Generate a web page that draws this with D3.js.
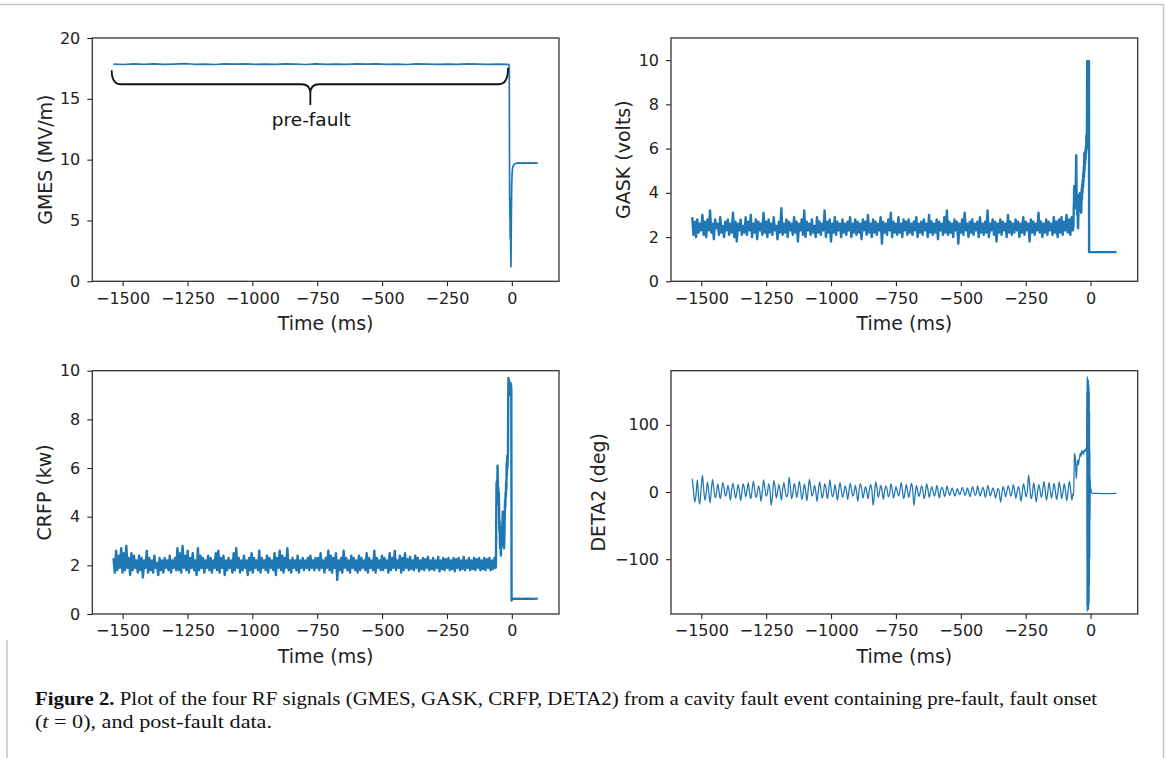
<!DOCTYPE html>
<html>
<head>
<meta charset="utf-8">
<script src="https://cdn.jsdelivr.net/npm/d3@7/dist/d3.min.js"></script>
<style>
  html, body { margin: 0; padding: 0; background: #fff; }
  svg { display: block; }
</style>
</head>
<body>
<svg id="fig" width="1167" height="758"></svg>
<script>
// ---------------------------------------------------------------
// RF signals of one cavity fault event (times in ms, fault onset t = 0)
// ---------------------------------------------------------------
const timeTicks = [-1500, -1250, -1000, -750, -500, -250, 0];
const timeDomain = [-1616.75, 181.75];

const gmesTicks = [0, 5, 10, 15, 20];
const gaskTicks = [0, 2, 4, 6, 8, 10];
const crfpTicks = [0, 2, 4, 6, 8, 10];
const deta2Ticks = [-100, 0, 100];

// GMES (MV/m): steady pre-fault gradient, sampled evenly from -1535 to -14 ms
const gmesPreSpan = [-1535, -14];
const gmesPre = [
  17.86,17.82,17.88,17.84,17.87,17.83,17.86,17.89,17.84,17.86,
  17.82,17.87,17.85,17.88,17.83,17.86,17.84,17.87,17.85,17.82,
  17.88,17.84,17.86,17.83,17.87,17.85,17.88,17.84,17.86,17.82,
  17.87,17.85,17.83,17.86,17.84,17.87,17.85,17.83,17.86,17.84
];
// GMES around the fault: [time, value]
const gmesFault = [
  [-12, 17.80], [-10, 17.74], [-8.5, 7.0], [-7.5, 5.2], [-7, 6.8], [-6.5, 3.6],
  [-6, 6.4], [-5.5, 3.4], [-5, 5.6], [-4.5, 2.6], [-3.5, 1.2], [-2.5, 3.4],
  [-1.5, 6.0], [-0.5, 7.8], [0.5, 8.6], [2, 9.15], [4, 9.4], [7, 9.55],
  [11, 9.65], [16, 9.70], [25, 9.73], [35, 9.71], [45, 9.74], [55, 9.72],
  [65, 9.74], [75, 9.71], [85, 9.73], [100, 9.72]
];

// GASK (volts): pre-fault samples evenly spread over -1535 .. -68 ms
const gaskPreSpan = [-1535, -68];
const gaskPre = [
  2.9,2.1,2.7,2.0,2.8,2.2,2.6,2.3,3.0,2.1,
  2.7,2.0,2.8,2.3,3.2,2.2,2.6,1.9,2.8,2.4,
  2.6,2.1,2.9,2.2,2.5,2.0,2.7,2.3,2.8,2.1,
  2.6,2.2,3.1,2.0,2.7,1.8,2.6,2.3,2.8,2.1,
  2.5,2.2,2.9,2.1,2.7,2.3,3.0,2.0,2.6,2.2,
  2.8,1.9,2.7,2.3,2.6,2.1,3.1,2.2,2.7,2.0,
  2.8,2.2,2.6,2.1,2.9,2.3,2.5,1.9,2.7,2.2,
  3.3,2.1,2.6,2.2,2.8,2.0,2.7,2.3,2.6,2.1,
  2.9,2.2,2.7,1.8,2.6,2.3,2.8,2.1,3.2,2.0,
  2.7,2.3,2.6,2.1,2.8,2.2,2.5,2.0,2.9,2.2,
  2.7,2.1,2.6,2.3,3.2,2.0,2.7,2.2,2.8,1.8,
  2.6,2.2,2.9,2.1,2.7,2.3,2.6,2.0,2.8,2.2,
  2.6,2.1,2.7,2.3,2.9,2.0,2.6,2.2,2.8,2.1,
  2.7,2.2,2.6,1.9,2.8,2.3,2.7,2.1,3.0,2.2,
  2.6,2.0,2.8,2.2,2.7,2.1,2.6,2.3,2.9,1.7,
  2.7,2.2,2.6,2.1,2.8,2.3,3.1,2.0,2.7,2.2,
  2.6,2.1,2.9,2.2,2.6,2.0,2.8,2.3,2.7,2.1,
  2.8,2.2,2.6,2.1,2.7,2.3,2.9,2.0,2.6,2.2,
  2.7,2.1,2.8,2.3,2.6,2.0,3.0,2.2,2.7,2.1,
  2.6,2.2,2.8,1.9,2.7,2.3,2.6,2.1,2.9,2.2,
  3.2,2.1,2.7,2.2,2.6,2.0,2.8,2.3,2.7,1.7,
  2.6,2.2,2.8,2.1,3.1,2.3,2.6,2.0,2.7,2.2,
  2.8,2.1,2.6,2.3,2.7,2.0,2.9,2.2,2.6,2.1,
  2.7,2.2,3.2,2.0,2.6,2.3,2.8,2.1,2.7,1.8,
  2.6,2.2,2.8,2.1,2.7,2.3,2.6,2.0,3.0,2.2,
  2.7,2.1,2.6,2.2,2.8,2.3,2.7,2.0,2.6,2.2,
  2.9,2.1,2.7,2.3,2.6,1.8,2.8,2.2,2.7,2.1,
  2.6,2.3,3.1,2.2,2.7,2.0,2.6,2.2,2.8,2.1,
  2.7,2.3,2.6,2.1,2.9,2.2,2.7,2.0,2.8,2.2,
  2.9,2.1,2.7,2.3,3.0,2.2,2.8,2.1,2.9,2.3
];
const gaskFault = [
  [-66, 2.5], [-64, 3.6], [-63, 4.3], [-62, 3.8], [-61, 4.1], [-60, 3.3],
  [-59, 4.0], [-58, 3.5], [-57, 4.4], [-56, 5.0], [-55, 5.7], [-54, 4.2],
  [-53, 3.6], [-52, 3.9], [-51, 3.0], [-50, 3.4], [-49, 2.7], [-48, 2.4],
  [-47, 2.9], [-46, 3.3], [-45, 3.9], [-44, 3.2], [-43, 3.7], [-42, 3.4],
  [-41, 4.0], [-40, 3.3], [-39, 3.6], [-38, 3.2], [-37, 3.5], [-36, 3.1],
  [-35, 3.6], [-34, 4.2], [-33, 3.7], [-32, 4.4], [-31, 4.0], [-30, 4.6],
  [-29, 4.2], [-28, 4.9], [-27, 4.5], [-26, 5.2], [-25, 4.7], [-24, 5.8],
  [-23, 5.0], [-22, 5.6], [-21, 5.3], [-20, 5.9], [-19, 5.5], [-18, 6.1],
  [-17, 5.8], [-16, 6.6], [-15, 6.0], [-14, 6.4], [-13, 9.95], [-6, 9.95],
  [-5.5, 1.32], [100, 1.32]
];

// CRFP (kW): pre-fault samples evenly spread over -1535 .. -62 ms
const crfpPreSpan = [-1535, -62];
const crfpPre = [
  2.3,1.7,2.6,1.8,2.4,1.9,2.7,1.7,2.5,1.8,
  2.8,1.9,2.3,1.6,2.5,1.8,2.4,1.9,2.2,1.7,
  2.4,1.8,2.3,1.5,2.2,1.9,2.6,1.7,2.3,1.8,
  2.2,1.7,2.4,1.9,2.1,1.6,2.3,1.8,2.2,1.7,
  2.3,1.9,2.2,1.8,2.4,1.7,2.2,1.9,2.3,1.8,
  2.7,1.8,2.5,1.7,2.8,1.9,2.4,1.8,2.6,1.7,
  2.3,1.9,2.5,1.8,2.2,1.6,2.7,1.8,2.4,1.9,
  2.3,1.7,2.2,1.9,2.4,1.8,2.3,1.7,2.2,1.9,
  2.5,1.8,2.6,1.7,2.3,1.9,2.4,1.6,2.2,1.8,
  2.3,1.9,2.2,1.7,2.5,1.8,2.7,1.9,2.3,1.7,
  2.2,1.8,2.4,1.9,2.2,1.6,2.3,1.8,2.5,1.7,
  2.3,1.9,2.2,1.8,2.6,1.7,2.3,1.9,2.2,1.8,
  2.4,1.7,2.3,1.9,2.2,1.8,2.5,1.6,2.3,1.9,
  2.6,1.8,2.4,1.7,2.3,1.9,2.7,1.8,2.2,1.7,
  2.3,1.9,2.2,1.8,2.4,1.7,2.2,1.9,2.3,1.8,
  2.2,1.9,2.3,1.8,2.4,1.9,2.2,1.8,2.3,1.9,
  2.3,1.8,2.5,1.9,2.2,1.7,2.3,1.9,2.6,1.8,
  2.4,1.7,2.3,1.9,2.5,1.4,2.2,1.8,2.3,1.7,
  2.6,1.9,2.3,1.8,2.2,1.7,2.4,1.9,2.3,1.8,
  2.2,1.7,2.4,1.8,2.3,1.9,2.2,1.8,2.5,1.7,
  2.3,1.9,2.2,1.8,2.6,1.7,2.3,1.9,2.2,1.8,
  2.4,1.8,2.3,1.9,2.2,1.7,2.5,1.8,2.3,1.9,
  2.6,1.8,2.2,1.9,2.4,1.7,2.3,1.8,2.5,1.9,
  2.25,1.8,2.35,1.85,2.2,1.8,2.4,1.9,2.3,1.75,
  2.2,1.85,2.3,1.8,2.25,1.9,2.35,1.8,2.2,1.85,
  2.3,1.8,2.2,1.9,2.35,1.75,2.2,1.85,2.3,1.8,
  2.25,1.9,2.3,1.8,2.2,1.85,2.3,1.75,2.25,1.9,
  2.3,1.8,2.2,1.85,2.35,1.8,2.2,1.9,2.3,1.8,
  2.2,1.85,2.3,1.8,2.25,1.9,2.3,1.8,2.2,1.85,
  2.3,1.8,2.25,1.9,2.3,1.8,2.2,1.85,2.3,1.9
];
const crfpFault = [
  [-61, 2.2], [-60, 4.2], [-59, 5.4], [-58, 4.9], [-57, 5.5], [-56, 5.0],
  [-55, 6.1], [-54, 5.3], [-53, 4.8], [-52, 5.2], [-51, 4.5], [-50, 5.0],
  [-49, 4.1], [-48, 3.4], [-47, 3.8], [-46, 3.0], [-45, 2.7], [-44, 3.1],
  [-43, 2.6], [-42, 2.4], [-41, 2.9], [-40, 3.3], [-39, 3.0], [-38, 3.6],
  [-37, 3.4], [-36, 3.9], [-35, 4.2], [-34, 3.7], [-33, 3.2], [-32, 2.8],
  [-31, 3.3], [-30, 2.7], [-29, 3.1], [-28, 3.6], [-27, 4.2], [-26, 4.7],
  [-25, 4.4], [-24, 5.0], [-23, 4.8], [-22, 5.4], [-21, 5.1], [-20, 6.2],
  [-19, 5.7], [-18, 6.5], [-17, 6.0], [-16, 6.4], [-15, 6.6], [-14, 8.8],
  [-13, 9.7], [-12, 9.4], [-11, 9.6], [-10, 9.2], [-9, 9.5], [-8, 9.1],
  [-7, 9.4], [-6, 9.0], [-5, 9.5], [-4, 9.1], [-3, 9.4], [-2, 9.2],
  [-1, 0.55], [1, 0.6], [4, 0.62], [20, 0.63], [40, 0.62], [60, 0.63],
  [80, 0.62], [100, 0.63]
];

// DETA2 (deg): detuning angle, pre-fault samples evenly spread over -1535 .. -67 ms
const deta2PreSpan = [-1535, -67];
const deta2Pre = [
  20,2,-15,-4,18,-8,-18,6,25,4,-12,-2,
  15,0,-16,3,19,5,-8,-3,12,2,-10,1,
  14,6,-6,-2,10,1,-12,4,13,3,-9,-1,
  11,2,-13,0,12,5,-7,2,14,-1,-10,3,
  16,4,-8,-3,9,2,-14,1,18,6,-6,-2,
  12,3,-20,-5,17,8,-9,0,11,2,-12,4,
  14,1,-7,-4,22,9,-10,-2,13,5,-8,1,
  16,6,-11,-3,12,2,-13,3,19,7,-6,-1,
  10,0,-14,2,15,4,-9,-2,12,6,-10,0,
  18,5,-7,-3,11,1,-12,2,14,3,-8,-1,
  9,2,-11,1,13,4,-6,-2,10,0,-14,3,
  12,5,-9,-1,8,1,-10,2,11,3,-20,-4,
  15,6,-8,0,10,2,-11,1,9,3,-7,-2,
  12,4,-9,-1,8,0,-6,2,14,3,-10,-1,
  11,2,-8,1,13,5,-20,-4,10,1,-7,0,
  9,3,-10,-2,12,4,-8,0,8,2,-6,-1,
  10,1,-9,2,7,3,-7,-1,9,2,-5,0,
  6,1,-6,-2,5,0,-4,1,7,2,-5,-1,
  6,0,-7,1,8,2,-5,-2,9,1,-6,0,
  7,3,-8,-1,10,2,-6,0,6,1,-9,-2,
  5,0,-15,-3,8,2,-7,1,9,3,-6,-1,
  11,2,-9,0,8,1,-14,-2,12,4,-7,0,
  25,8,-10,-3,14,2,-15,-1,11,3,-8,0,
  16,4,-12,-2,14,3,-9,1,13,2,-11,-1,
  15,5,-10,0,12,1,-13,2,16,4,-12,-2
];
// rise before the trip, then the wide phase swing at onset and the settled value
const deta2Fault = [
  [-65, -5], [-63, 40], [-62, 58], [-61, 50], [-59, 55], [-57, 35], [-55, 20],
  [-53, 30], [-51, 45], [-49, 48], [-47, 40], [-45, 44], [-43, 50], [-41, 55],
  [-39, 58], [-37, 53], [-35, 57], [-33, 62], [-31, 58], [-29, 60], [-27, 56],
  [-25, 62], [-23, 60], [-21, 63], [-19, 61], [-17, 65], [-15, 68],
  [-14.4, 150], [-13.8, -170], [-13.2, 168], [-12.6, -178], [-12, 172],
  [-11.4, -165], [-10.8, 165], [-10.2, -175], [-9.6, 160], [-9, -172],
  [-8.4, 168], [-7.8, -176], [-7.2, 162], [-6.6, -170], [-6, 158], [-5.4, -165],
  [-4.8, 150], [-4.2, -140], [-3.6, 120], [-3, -100], [-2.4, 60], [-1.8, -40],
  [-1.2, 20], [0, 8], [1, 5], [2, 3], [4, -1], [8, -2], [30, -2], [60, -2.5],
  [100, -2]
];

const signalColor = '#1f77b4';
const inkColor = '#222';
const fontSans = 'DejaVu Sans, sans-serif';

// samples spread evenly across a time span, followed by the fault points
function buildSeries(span, values, fault) {
  const n = values.length;
  const pts = values.map((v, i) => [span[0] + (span[1] - span[0]) * i / (n - 1), v]);
  return pts.concat(fault);
}

const panels = [
  { label: 'GMES (MV/m)', box: [92.3, 38, 559, 281.3], yDomain: [0, 20], yTicks: gmesTicks,
    labelX: 45, data: buildSeries(gmesPreSpan, gmesPre, gmesFault), width: 1.7, curve: d3.curveLinear },
  { label: 'GASK (volts)', box: [671, 38, 1137.7, 281.3], yDomain: [0, 11], yTicks: gaskTicks,
    labelX: 623, data: buildSeries(gaskPreSpan, gaskPre, gaskFault), width: 2.4, curve: d3.curveLinear },
  { label: 'CRFP (kw)', box: [92.3, 370.7, 559, 614], yDomain: [0, 10], yTicks: crfpTicks,
    labelX: 44, data: buildSeries(crfpPreSpan, crfpPre, crfpFault), width: 2.4, curve: d3.curveLinear },
  { label: 'DETA2 (deg)', box: [671, 370.7, 1137.7, 614], yDomain: [-181.6, 180.6], yTicks: deta2Ticks,
    labelX: 598, data: buildSeries(deta2PreSpan, deta2Pre, deta2Fault), width: 1.25, curve: d3.curveMonotoneX }
];

const svg = d3.select('#fig');

// page frame lines
svg.append('line').attr('x1', 0).attr('x2', 1163.5).attr('y1', 4.5).attr('y2', 4.5)
  .attr('stroke', '#c4c4c4').attr('stroke-width', 1.5);
svg.append('line').attr('x1', 1163.5).attr('x2', 1163.5).attr('y1', 4.5).attr('y2', 758)
  .attr('stroke', '#c4c4c4').attr('stroke-width', 1.5);
svg.append('line').attr('x1', 7).attr('x2', 7).attr('y1', 640).attr('y2', 758)
  .attr('stroke', '#c4c4c4').attr('stroke-width', 1.5);

const tickFmt = d3.format('d');

panels.forEach((p, idx) => {
  const [x0, y0, x1, y1] = p.box;
  const x = d3.scaleLinear().domain(timeDomain).range([x0, x1]);
  const y = d3.scaleLinear().domain(p.yDomain).range([y1, y0]);
  const g = svg.append('g');

  const line = d3.line().x(d => x(d[0])).y(d => y(d[1])).curve(p.curve);
  g.append('path').datum(p.data)
    .attr('d', line)
    .attr('fill', 'none')
    .attr('stroke', signalColor)
    .attr('stroke-width', p.width)
    .attr('stroke-linejoin', 'round');

  // axes
  const xAxis = d3.axisBottom(x).tickValues(timeTicks).tickFormat(tickFmt).tickSize(5).tickPadding(6);
  const yAxis = d3.axisLeft(y).tickValues(p.yTicks).tickFormat(tickFmt).tickSize(5).tickPadding(7);
  const gx = g.append('g').attr('transform', `translate(0,${y1})`).call(xAxis);
  const gy = g.append('g').attr('transform', `translate(${x0},0)`).call(yAxis);
  [gx, gy].forEach(a => {
    a.select('.domain').remove();
    a.selectAll('.tick line').attr('stroke', inkColor).attr('stroke-width', 1.1);
    a.selectAll('.tick text').attr('fill', inkColor)
      .style('font-family', fontSans).style('font-size', '16px');
  });

  // frame
  g.append('rect').attr('x', x0).attr('y', y0).attr('width', x1 - x0).attr('height', y1 - y0)
    .attr('fill', 'none').attr('stroke', '#333').attr('stroke-width', 1.3);

  // axis titles
  g.append('text').attr('x', (x0 + x1) / 2).attr('y', y1 + 49)
    .attr('text-anchor', 'middle').attr('fill', inkColor)
    .style('font-family', fontSans).style('font-size', '19px')
    .text('Time (ms)');
  g.append('text')
    .attr('transform', `translate(${p.labelX},${(y0 + y1) / 2}) rotate(-90)`)
    .attr('text-anchor', 'middle').attr('dominant-baseline', 'central').attr('fill', inkColor)
    .style('font-family', fontSans).style('font-size', '19px')
    .text(p.label);

  // brace marking the pre-fault window
  if (idx === 0) {
    const bx0 = x(-1542), bx1 = x(-14.6), bc = x(-776.5);
    const yL = y(17.35), yR = y(17.55), yH = y(16.2), yTip = y(14.5);
    const r = 9;
    const path = d3.path();
    path.moveTo(bx0, yL);
    path.quadraticCurveTo(bx0, yH, bx0 + r, yH);
    path.lineTo(bc - r, yH);
    path.quadraticCurveTo(bc, yH, bc, yH + r);
    path.lineTo(bc, yTip);
    path.moveTo(bc, yH + r);
    path.quadraticCurveTo(bc, yH, bc + r, yH);
    path.lineTo(bx1 - r, yH);
    path.quadraticCurveTo(bx1, yH, bx1, yR);
    g.append('path').attr('d', path.toString())
      .attr('fill', 'none').attr('stroke', '#111').attr('stroke-width', 1.8);
    g.append('text').attr('x', bc + 1).attr('y', y(14.5) + 21)
      .attr('text-anchor', 'middle').attr('fill', '#111')
      .style('font-family', fontSans).style('font-size', '18.5px')
      .text('pre-fault');
  }
});

// caption
const cap = svg.append('g').style('font-family', 'Liberation Serif, serif').style('font-size', '19.5px')
  .attr('fill', '#111');
const c1 = cap.append('text').attr('x', 35).attr('y', 705)
  .attr('textLength', 1062).attr('lengthAdjust', 'spacingAndGlyphs');
c1.append('tspan').style('font-weight', 'bold').text('Figure 2.');
c1.append('tspan').text(' Plot of the four RF signals (GMES, GASK, CRFP, DETA2) from a cavity fault event containing pre-fault, fault onset');
const c2 = cap.append('text').attr('x', 35).attr('y', 728)
  .attr('textLength', 237).attr('lengthAdjust', 'spacingAndGlyphs');
c2.append('tspan').text('(');
c2.append('tspan').style('font-style', 'italic').text('t');
c2.append('tspan').text(' = 0), and post-fault data.');
</script>
</body>
</html>
